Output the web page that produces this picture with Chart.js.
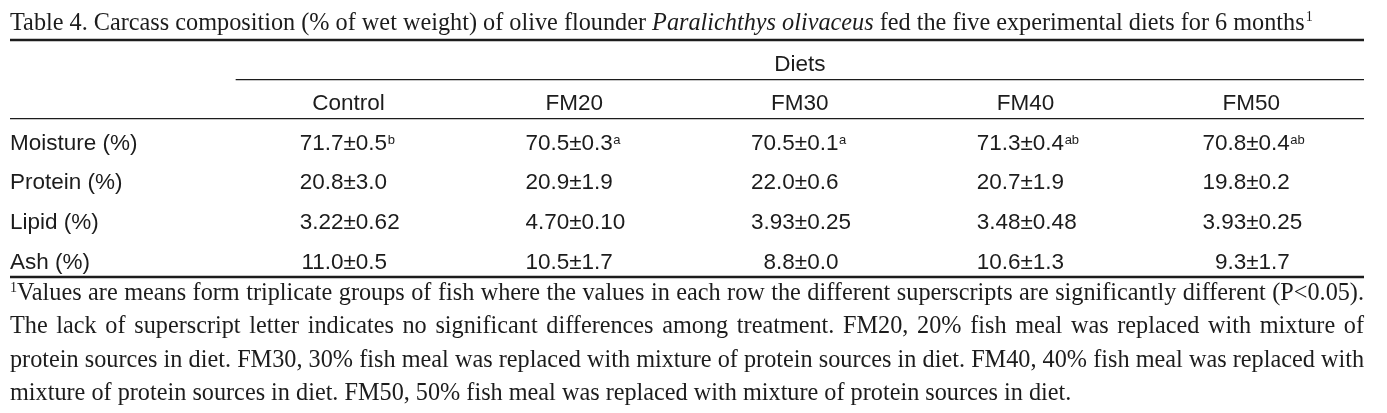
<!DOCTYPE html>
<html>
<head>
<meta charset="utf-8">
<script src="https://cdn.jsdelivr.net/npm/chart.js@4"></script>
<style>
  body { margin: 0; background: #fff; }
  canvas { display: block; }
</style>
</head>
<body>
<canvas id="myChart" width="1387" height="413"></canvas>
<script>
// table content
const diets = ['Control', 'FM20', 'FM30', 'FM40', 'FM50']
const rowLabels = ['Moisture (%)', 'Protein (%)', 'Lipid (%)', 'Ash (%)']
const decimals = [1, 1, 2, 1]

const moistureMean = [71.7, 70.5, 70.5, 71.3, 70.8]
const moistureSD = [0.5, 0.3, 0.1, 0.4, 0.4]
const moistureSup = ['b', 'a', 'a', 'ab', 'ab']
const proteinMean = [20.8, 20.9, 22.0, 20.7, 19.8]
const proteinSD = [3.0, 1.9, 0.6, 1.9, 0.2]
const lipidMean = [3.22, 4.70, 3.93, 3.48, 3.93]
const lipidSD = [0.62, 0.10, 0.25, 0.48, 0.25]
const ashMean = [11.0, 10.5, 8.8, 10.6, 9.3]
const ashSD = [0.5, 1.7, 0.0, 1.3, 1.7]

const means = [moistureMean, proteinMean, lipidMean, ashMean]
const sds = [moistureSD, proteinSD, lipidSD, ashSD]
const sups = [moistureSup, [], [], []]

const titleParts = [
    { text: 'Table 4. Carcass composition (% of wet weight) of olive flounder ', italic: false },
    { text: 'Paralichthys olivaceus', italic: true },
    { text: ' fed the five experimental diets for 6 months', italic: false }
]
const footnoteLines = [
    'Values are means form triplicate groups of fish where the values in each row the different superscripts are significantly different (P<0.05).',
    'The lack of superscript letter indicates no significant differences among treatment. FM20, 20% fish meal was replaced with mixture of',
    'protein sources in diet. FM30, 30% fish meal was replaced with mixture of protein sources in diet. FM40, 40% fish meal was replaced with',
    'mixture of protein sources in diet. FM50, 50% fish meal was replaced with mixture of protein sources in diet.'
]

const SANS = '"Liberation Sans", Arial, sans-serif'
const SERIF = '"Liberation Serif", "Times New Roman", serif'
const INK = '#1c1c1c'

// y values: 0 = "Diets", 1 = diet names, 2.. = data rows
const datasets = rowLabels.map((label, r) => ({
    label: label,
    data: diets.map((d, i) => ({ x: i + 1, y: r + 2 })),
    pointRadius: 0
}))

const tablePlugin = {
    id: 'table',
    afterDatasetsDraw(chart) {
        const ctx = chart.ctx
        const x = chart.scales.x
        const y = chart.scales.y
        const left = chart.chartArea.left
        const right = chart.chartArea.right
        ctx.save()
        ctx.fillStyle = INK
        ctx.strokeStyle = INK

        // rules
        const rule = (yv, x0, w) => {
            ctx.lineWidth = w
            ctx.beginPath()
            ctx.moveTo(x0, y.getPixelForValue(yv))
            ctx.lineTo(right, y.getPixelForValue(yv))
            ctx.stroke()
        }
        rule(-0.57, left, 2.6)
        rule(0.43, x.getPixelForValue(0.5), 1.2)
        rule(1.418, left, 1.2)
        rule(5.418, left, 2.6)

        // headers
        const fs = 22.5
        ctx.font = fs + 'px ' + SANS
        ctx.textBaseline = 'alphabetic'
        const capMid = fs * 0.358
        ctx.textAlign = 'center'
        ctx.fillText('Diets', x.getPixelForValue(3), y.getPixelForValue(0) + capMid)
        diets.forEach((d, i) => {
            ctx.fillText(d, x.getPixelForValue(i + 1), y.getPixelForValue(1) + capMid)
        })

        // row labels
        ctx.textAlign = 'left'
        rowLabels.forEach((lab, r) => {
            ctx.fillText(lab, x.getPixelForValue(-0.5), y.getPixelForValue(r + 2) + capMid)
        })

        // cells, aligned on the ± sign
        rowLabels.forEach((lab, r) => {
            const meta = chart.getDatasetMeta(r)
            meta.data.forEach((pt, i) => {
                const base = pt.y + capMid
                const anchor = pt.x - 5
                ctx.font = fs + 'px ' + SANS
                ctx.textAlign = 'right'
                ctx.fillText(means[r][i].toFixed(decimals[r]), anchor, base)
                ctx.textAlign = 'left'
                const rest = '±' + sds[r][i].toFixed(decimals[r])
                ctx.fillText(rest, anchor, base)
                const sup = sups[r][i]
                if (sup) {
                    const w = ctx.measureText(rest).width
                    ctx.font = '13px ' + SANS
                    ctx.fillText(sup, anchor + w + 0.5, base - 6)
                }
            })
        })

        // title
        let ts = 24
        const measureTitle = (s) => {
            let w = 0
            titleParts.forEach(p => {
                ctx.font = (p.italic ? 'italic ' : '') + s + 'px ' + SERIF
                w += ctx.measureText(p.text).width
            })
            ctx.font = Math.round(s * 0.58) + 'px ' + SERIF
            return w + ctx.measureText('1').width
        }
        ts = ts * 1302 / measureTitle(ts)
        let tx = 10
        titleParts.forEach(p => {
            ctx.font = (p.italic ? 'italic ' : '') + ts + 'px ' + SERIF
            ctx.fillText(p.text, tx, 30)
            tx += ctx.measureText(p.text).width
        })
        ctx.font = (ts * 0.58) + 'px ' + SERIF
        ctx.fillText('1', tx + 1, 21)

        // footnote
        let ns = 22
        ctx.font = ns + 'px ' + SERIF
        ns = ns * 1062 / ctx.measureText(footnoteLines[3]).width
        const fullW = right - 10
        footnoteLines.forEach((line, k) => {
            const base = 300 + k * 33.3
            let x0 = 10
            let width = fullW
            if (k === 0) {
                ctx.font = (ns * 0.58) + 'px ' + SERIF
                ctx.fillText('1', x0, base - 8)
                const sw = ctx.measureText('1').width
                x0 += sw
                width -= sw
            }
            ctx.font = ns + 'px ' + SERIF
            if (k === footnoteLines.length - 1) {
                ctx.fillText(line, x0, base)
                return
            }
            const words = line.split(' ')
            const total = words.reduce((s, w) => s + ctx.measureText(w).width, 0)
            const gap = (width - total) / (words.length - 1)
            let cx = x0
            words.forEach(w => {
                ctx.fillText(w, cx, base)
                cx += ctx.measureText(w).width + gap
            })
        })
        ctx.restore()
    }
}

const myChartRef = document.getElementById('myChart').getContext('2d')
new Chart(myChartRef, {
    type: 'scatter',
    data: { datasets: datasets },
    options: {
        responsive: false,
        animation: false,
        events: [],
        layout: { padding: { left: 10, right: 23, top: 40, bottom: 136 } },
        plugins: { legend: { display: false }, tooltip: { enabled: false } },
        scales: {
            x: { type: 'linear', min: -0.5, max: 5.5, display: false },
            y: { type: 'linear', reverse: true, min: -0.57, max: 5.418, display: false }
        }
    },
    plugins: [tablePlugin]
})
</script>
</body>
</html>
